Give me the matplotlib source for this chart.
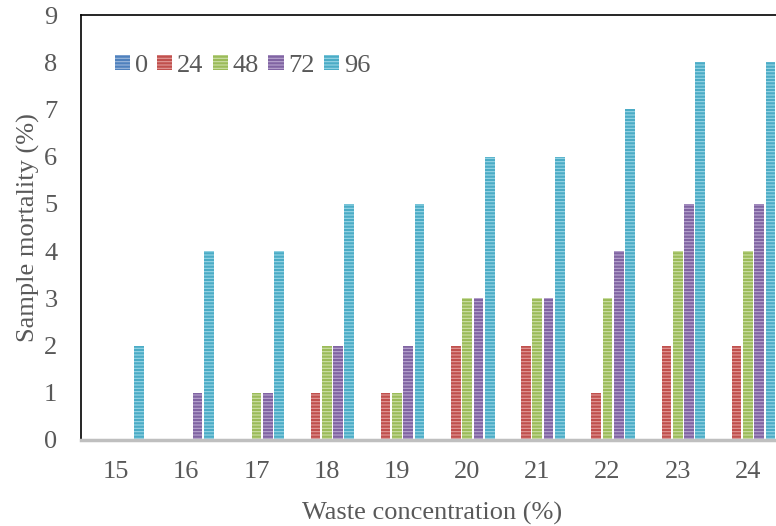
import matplotlib
matplotlib.use("Agg")
import matplotlib.pyplot as plt
import numpy as np

# ---- data
concentration = ["15", "16", "17", "18", "19", "20", "21", "22", "23", "24"]
series_names = ["0", "24", "48", "72", "96"]
h0 = [0, 0, 0, 0, 0, 0, 0, 0, 0, 0]
h24 = [0, 0, 0, 1, 1, 2, 2, 1, 2, 2]
h48 = [0, 0, 1, 2, 1, 3, 3, 3, 4, 4]
h72 = [0, 1, 1, 2, 2, 3, 3, 4, 5, 5]
h96 = [2, 4, 4, 5, 5, 6, 6, 7, 8, 8]
colors = ["#4F81BD", "#C0504D", "#9BBB59", "#8064A2", "#4BACC6"]
stripes = ["#9DB8DC", "#E29B99", "#CDE0A8", "#B9A6CF", "#9AD6E6"]

plt.rcParams["font.family"] = ["Liberation Serif", "DejaVu Serif"]
plt.rcParams["hatch.linewidth"] = 0.8
txt = "#595959"
fs = 19

fig = plt.figure(figsize=(7.76, 5.26), dpi=100)
ax = fig.add_axes([81 / 776, 1 - 440 / 526, 702 / 776, 425 / 526])

x = np.arange(len(concentration))
step = 0.161
width = 0.137
all_vals = [h0, h24, h48, h72, h96]
for i, vals in enumerate(all_vals):
    ax.bar(x + (i - 2) * step, vals, width, color=colors[i], edgecolor=stripes[i],
           linewidth=0, hatch="-----", label=series_names[i], zorder=2)

ax.set_xlim(-0.5, len(concentration) - 0.5)
ax.set_ylim(0, 9)
ax.set_yticks(range(10))
ax.set_xticks(x)
ax.set_xticklabels(concentration)
ax.tick_params(axis="both", length=0, labelsize=fs, colors=txt)
ax.tick_params(axis="y", pad=17)
ax.tick_params(axis="x", pad=15)

for s in ["left", "top", "right"]:
    ax.spines[s].set_color("black")
    ax.spines[s].set_linewidth(1.2)
ax.spines["bottom"].set_color("#BFBFBF")
ax.spines["bottom"].set_linewidth(2.5)
ax.spines["bottom"].set_zorder(3)

ax.set_xlabel("Waste concentration (%)", fontsize=fs, color=txt, labelpad=14)
ax.set_ylabel("Sample mortality (%)", fontsize=fs, color=txt, labelpad=3)

leg = ax.legend(loc="upper left", bbox_to_anchor=(0.033, 0.93), ncol=5, frameon=False,
                fontsize=fs, handlelength=0.57, handleheight=0.5, handletextpad=0.18,
                columnspacing=0.36, borderaxespad=0)
for t in leg.get_texts():
    t.set_color(txt)

fig.savefig("out.png", dpi=100)
